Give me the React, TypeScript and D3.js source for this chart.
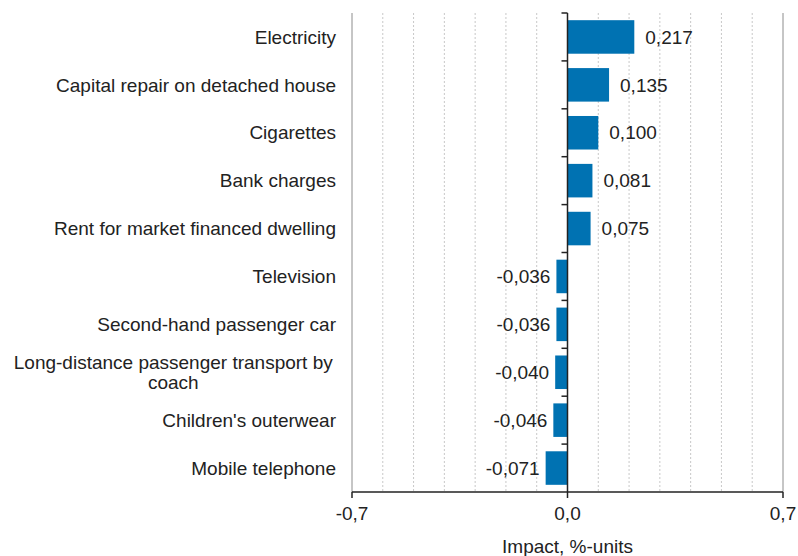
import React, { useEffect, useRef } from "react";
import * as d3 from "d3";

const categories: string[][] = [
  ["Electricity"],
  ["Capital repair on detached house"],
  ["Cigarettes"],
  ["Bank charges"],
  ["Rent for market financed dwelling"],
  ["Television"],
  ["Second-hand passenger car"],
  ["Long-distance passenger transport by", "coach"],
  ["Children's outerwear"],
  ["Mobile telephone"],
];
const values: number[] = [0.217, 0.135, 0.1, 0.081, 0.075, -0.036, -0.036, -0.04, -0.046, -0.071];
const xTicks: number[] = [-0.7, 0, 0.7];
const xTitle = "Impact, %-units";

const fmt = (v: number, digits: number) => v.toFixed(digits).replace(".", ",");

const App: React.FC = () => {
  const svgRef = useRef<SVGSVGElement | null>(null);

  useEffect(() => {
    document.body.style.margin = "0";
    document.body.style.overflow = "hidden";
    const svg = d3.select(svgRef.current);
    svg.selectAll("*").remove();

    const width = 798;
    const height = 556;
    const margin = { top: 13, right: 15, bottom: 64, left: 352 };
    const font = "'Liberation Sans', Arial, sans-serif";
    const fs = 19;

    const x = d3
      .scaleLinear()
      .domain([-0.7, 0.7])
      .range([margin.left, width - margin.right]);

    const keys = categories.map((_, i) => String(i));
    const y = d3
      .scaleBand()
      .domain(keys)
      .range([margin.top, height - margin.bottom])
      .paddingInner(0.3)
      .paddingOuter(0.15);

    const bottom = height - margin.bottom;

    // grid lines
    const grid = d3.range(-7, 8).map((d) => d / 10);
    svg
      .append("g")
      .selectAll("line")
      .data(grid)
      .join("line")
      .attr("x1", (d) => x(d))
      .attr("x2", (d) => x(d))
      .attr("y1", margin.top)
      .attr("y2", bottom)
      .attr("stroke", (d) => (Math.abs(d) > 0.69 ? "#8c8c8c" : "#c8c8c8"))
      .attr("stroke-width", 1)
      .attr("stroke-dasharray", (d) => (Math.abs(d) > 0.69 ? null : "2,2"));

    // bars
    svg
      .append("g")
      .selectAll("rect")
      .data(values)
      .join("rect")
      .attr("x", (d) => x(Math.min(0, d)))
      .attr("y", (_, i) => y(keys[i])!)
      .attr("width", (d) => Math.abs(x(d) - x(0)))
      .attr("height", y.bandwidth())
      .attr("fill", "#0072b2");

    // value labels
    svg
      .append("g")
      .selectAll("text")
      .data(values)
      .join("text")
      .attr("x", (d) => (d >= 0 ? x(d) + 11 : x(d) - 6))
      .attr("y", (_, i) => y(keys[i])! + y.bandwidth() / 2)
      .attr("dy", "0.35em")
      .attr("text-anchor", (d) => (d >= 0 ? "start" : "end"))
      .attr("font-family", font)
      .attr("font-size", fs)
      .attr("fill", "#222")
      .text((d) => fmt(d, 3));

    // zero axis with ticks at band boundaries
    const zero = svg.append("g");
    zero
      .append("line")
      .attr("x1", x(0))
      .attr("x2", x(0))
      .attr("y1", margin.top)
      .attr("y2", bottom)
      .attr("stroke", "#222")
      .attr("stroke-width", 1.5);
    const bounds = d3.range(categories.length).map((i) => margin.top + (i * (bottom - margin.top)) / categories.length);
    zero
      .selectAll("line.tk")
      .data(bounds)
      .join("line")
      .attr("class", "tk")
      .attr("x1", x(0) - 6)
      .attr("x2", x(0))
      .attr("y1", (d) => d)
      .attr("y2", (d) => d)
      .attr("stroke", "#222")
      .attr("stroke-width", 1.5);

    // bottom axis
    const ax = svg.append("g");
    ax.append("line")
      .attr("x1", x(-0.7))
      .attr("x2", x(0.7))
      .attr("y1", bottom)
      .attr("y2", bottom)
      .attr("stroke", "#222")
      .attr("stroke-width", 1.5);
    ax.selectAll("line.tk")
      .data(xTicks)
      .join("line")
      .attr("class", "tk")
      .attr("x1", (d) => x(d))
      .attr("x2", (d) => x(d))
      .attr("y1", bottom)
      .attr("y2", bottom + 6)
      .attr("stroke", "#222")
      .attr("stroke-width", 1.5);
    ax.selectAll("text")
      .data(xTicks)
      .join("text")
      .attr("x", (d) => x(d))
      .attr("y", bottom + 21)
      .attr("dy", "0.35em")
      .attr("text-anchor", "middle")
      .attr("font-family", font)
      .attr("font-size", fs)
      .attr("fill", "#222")
      .text((d) => fmt(d, 1));

    svg
      .append("text")
      .attr("x", x(0))
      .attr("y", bottom + 54)
      .attr("dy", "0.35em")
      .attr("text-anchor", "middle")
      .attr("font-family", font)
      .attr("font-size", fs)
      .attr("fill", "#222")
      .text(xTitle);

    // category labels
    const lab = svg.append("g");
    categories.forEach((lines, i) => {
      const cy = y(keys[i])! + y.bandwidth() / 2;
      if (lines.length === 1) {
        lab
          .append("text")
          .attr("x", 336)
          .attr("y", cy)
          .attr("dy", "0.35em")
          .attr("text-anchor", "end")
          .attr("font-family", font)
          .attr("font-size", fs)
          .attr("fill", "#222")
          .text(lines[0]);
      } else {
        const t = lab
          .append("text")
          .attr("font-family", font)
          .attr("font-size", fs)
          .attr("fill", "#222")
          .attr("text-anchor", "middle");
        t.append("tspan").attr("x", 0).attr("y", cy - 10).attr("dy", "0.35em").text(lines[0]);
        t.append("tspan").attr("x", 0).attr("y", cy + 10).attr("dy", "0.35em").text(lines[1]);
        const w = (t.node() as SVGTextElement).getBBox().width;
        t.selectAll("tspan").attr("x", 333 - w / 2);
      }
    });
  }, []);

  return (
    <div>
      <svg ref={svgRef} width={798} height={556} style={{ display: "block" }} />
    </div>
  );
};

export default App;
